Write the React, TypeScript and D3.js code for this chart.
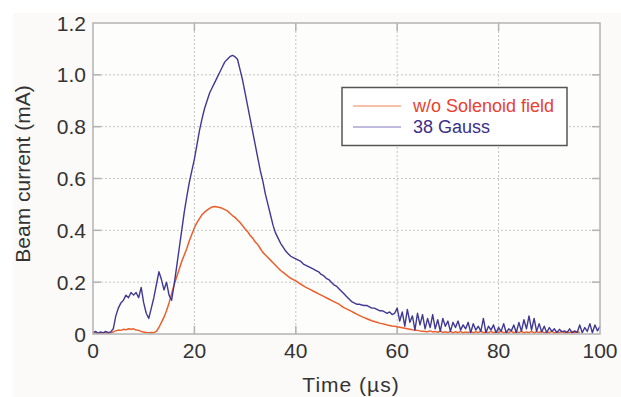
import React from "react";
import * as d3 from "d3";

// Sample interval of both traces: 0.5 µs, starting at t = 0
const STEP_US = 0.5;

const xTicks = [0, 20, 40, 60, 80, 100];
const yTicks = [0, 0.2, 0.4, 0.6, 0.8, 1.0, 1.2];
const yTickLabels = ["0", "0.2", "0.4", "0.6", "0.8", "1.0", "1.2"];

const seriesNames = ["w/o Solenoid field", "38 Gauss"];

// 38 Gauss (mA), every 0.5 µs from 0 to 100 µs
const gauss38 = [
  0.005, 0.01, 0.003, 0.008, 0.004, 0.01, 0.005, 0.008,
  0.02, 0.07, 0.10, 0.12, 0.13, 0.15, 0.14, 0.16, 0.15, 0.16, 0.14, 0.18,
  0.12, 0.08, 0.06, 0.10, 0.14, 0.19, 0.24, 0.21, 0.17, 0.20, 0.15, 0.13,
  0.19, 0.26, 0.33, 0.40, 0.47, 0.53, 0.585, 0.63, 0.675, 0.73, 0.785, 0.83,
  0.87, 0.90, 0.93, 0.95, 0.97, 0.99, 1.01, 1.03, 1.05, 1.06, 1.07, 1.075,
  1.07, 1.06, 1.02, 0.98, 0.93, 0.88, 0.83, 0.78, 0.73, 0.68, 0.63, 0.59,
  0.54, 0.50, 0.46, 0.42, 0.39, 0.37, 0.35, 0.335, 0.32, 0.31, 0.30, 0.295,
  0.29, 0.285, 0.28, 0.27, 0.265, 0.26, 0.255, 0.25, 0.245, 0.24, 0.23, 0.225,
  0.215, 0.21, 0.20, 0.19, 0.185, 0.175, 0.165, 0.155, 0.145, 0.135, 0.125, 0.12,
  0.115, 0.115, 0.112, 0.11, 0.11, 0.105, 0.10, 0.10, 0.095, 0.09, 0.09, 0.085,
  0.08, 0.085, 0.075, 0.08,
  0.10, 0.05, 0.085, 0.03, 0.095, 0.045, 0.07, 0.015, 0.08, 0.035, 0.075, 0.02,
  0.06, 0.025, 0.075, 0.02, 0.055, 0.01, 0.06, 0.03, 0.05, 0.01, 0.045, 0.025,
  0.05, 0.015, 0.035, 0.02, 0.045, 0.005, 0.04, 0.015, 0.03, 0.01, 0.06, 0.005,
  0.03, 0.015, 0.035, 0.005, 0.025, 0.01, 0.04, 0.005, 0.02, 0.012, 0.035, 0.005,
  0.045, 0.01, 0.055, 0.02, 0.07, 0.015, 0.06, 0.01, 0.04, 0.008, 0.03, 0.005,
  0.025, 0.01, 0.02, 0.005, 0.018, 0.008, 0.012, 0.005, 0.02, 0.004, 0.012, 0.006,
  0.035, 0.005, 0.025, 0.01, 0.04, 0.005, 0.035, 0.012, 0.03,
];

// w/o Solenoid field (mA), every 0.5 µs from 0 to 100 µs
const noSolenoid = [
  0.003, 0.005, 0.002, 0.004, 0.003, 0.005, 0.002, 0.004,
  0.008, 0.012, 0.015, 0.014, 0.018, 0.016, 0.02, 0.018, 0.02, 0.015, 0.014, 0.01,
  0.008, 0.006, 0.005, 0.006, 0.005, 0.01, 0.025, 0.045, 0.065, 0.09, 0.12, 0.155,
  0.19, 0.22, 0.25, 0.28, 0.305, 0.33, 0.36, 0.385, 0.41, 0.43, 0.445, 0.46,
  0.47, 0.478, 0.485, 0.49, 0.492, 0.49, 0.488, 0.485, 0.48, 0.475, 0.466, 0.457,
  0.45, 0.44, 0.43, 0.418, 0.405, 0.395, 0.38, 0.37, 0.355, 0.345, 0.33, 0.315,
  0.305, 0.295, 0.285, 0.275, 0.265, 0.255, 0.245, 0.238, 0.23, 0.222, 0.215, 0.21,
  0.205, 0.198, 0.192, 0.186, 0.18, 0.175, 0.17, 0.165, 0.16, 0.155, 0.15, 0.145,
  0.14, 0.135, 0.13, 0.125, 0.12, 0.115, 0.108, 0.102, 0.097, 0.092, 0.087, 0.082,
  0.077, 0.072, 0.067, 0.063, 0.059, 0.055, 0.051, 0.048, 0.045, 0.042, 0.04, 0.038,
  0.035, 0.033, 0.031, 0.03, 0.028, 0.026, 0.024, 0.022, 0.02, 0.018, 0.016, 0.015,
  0.014, 0.012, 0.011, 0.01, 0.009, 0.012, 0.008, 0.01, 0.007, 0.011, 0.006, 0.009,
  0.005, 0.01, 0.004, 0.009, 0.005, 0.01, 0.004, 0.008, 0.005, 0.01, 0.004, 0.009,
  0.005, 0.011, 0.004, 0.008, 0.005, 0.01, 0.004, 0.009, 0.005, 0.01, 0.004, 0.008,
  0.005, 0.011, 0.004, 0.009, 0.005, 0.01, 0.004, 0.008, 0.005, 0.01, 0.004, 0.009,
  0.005, 0.011, 0.004, 0.008, 0.005, 0.01, 0.004, 0.009, 0.005, 0.01, 0.004, 0.008,
  0.005, 0.01, 0.004, 0.009, 0.005,
];

const W = 621;
const H = 397;
const M = { left: 93, right: 600, top: 23, bottom: 334 };
const FONT = "'Liberation Sans', Arial, Helvetica, sans-serif";

const COL_BLUE = "#3f3894";
const COL_ORANGE = "#ea5f2c";

export default function App() {
  const x = d3.scaleLinear().domain([0, 100]).range([M.left, M.right]);
  const y = d3.scaleLinear().domain([0, 1.2]).range([M.bottom, M.top]);

  const toPts = (vals: number[]) => vals.map((v, i) => [i * STEP_US, v] as [number, number]);
  const line = d3
    .line<[number, number]>()
    .x((d) => x(d[0]))
    .y((d) => y(d[1]));

  const tickLen = 8;
  const frame = "#b3b3b3";

  return (
    <svg
      width={W}
      height={H}
      style={{ position: "absolute", left: 0, top: 0, fontFamily: FONT }}
    >
      <rect x={0} y={0} width={W} height={H} fill="#ffffff" />
      <rect x={13} y={13} width={W - 13} height={H - 13} fill="#fbfaf8" />
      <rect x={M.left} y={M.top} width={M.right - M.left} height={M.bottom - M.top} fill="#fdfdfc" />

      {/* grid */}
      {xTicks.slice(1, -1).map((t) => (
        <line key={"gx" + t} x1={x(t)} x2={x(t)} y1={M.top} y2={M.bottom}
          stroke="#c4c4c4" strokeWidth={1} strokeDasharray="2,2" />
      ))}
      {yTicks.slice(1, -1).map((t) => (
        <line key={"gy" + t} x1={M.left} x2={M.right} y1={y(t)} y2={y(t)}
          stroke="#c4c4c4" strokeWidth={1} strokeDasharray="2,2" />
      ))}

      {/* inner tick marks */}
      {xTicks.slice(1, -1).map((t) => (
        <g key={"tx" + t}>
          <line x1={x(t)} x2={x(t)} y1={M.bottom} y2={M.bottom - tickLen} stroke={frame} strokeWidth={1.5} />
          <line x1={x(t)} x2={x(t)} y1={M.top} y2={M.top + tickLen} stroke={frame} strokeWidth={1.5} />
        </g>
      ))}
      {yTicks.slice(1, -1).map((t) => (
        <g key={"ty" + t}>
          <line x1={M.left} x2={M.left + tickLen} y1={y(t)} y2={y(t)} stroke={frame} strokeWidth={1.5} />
          <line x1={M.right} x2={M.right - tickLen} y1={y(t)} y2={y(t)} stroke={frame} strokeWidth={1.5} />
        </g>
      ))}

      {/* traces */}
      <path d={line(toPts(noSolenoid)) || ""} fill="none" stroke={COL_ORANGE} strokeWidth={1.5} strokeLinejoin="round" />
      <path d={line(toPts(gauss38)) || ""} fill="none" stroke={COL_BLUE} strokeWidth={1.4} strokeLinejoin="round" />

      {/* frame */}
      <rect x={M.left} y={M.top} width={M.right - M.left} height={M.bottom - M.top}
        fill="none" stroke={frame} strokeWidth={1.5} />

      {/* tick labels */}
      {xTicks.map((t) => (
        <text key={"lx" + t} x={x(t)} y={358} textAnchor="middle" fontSize={21} fill="#333">
          {t}
        </text>
      ))}
      {yTicks.map((t, i) => (
        <text key={"ly" + t} x={86} y={y(t) + 7.5} textAnchor="end" fontSize={21} fill="#333">
          {yTickLabels[i]}
        </text>
      ))}

      {/* axis titles */}
      <text x={351} y={392} textAnchor="middle" fontSize={21} letterSpacing={1} fill="#333">
        Time (µs)
      </text>
      <text transform={`translate(30,174) rotate(-90)`} textAnchor="middle" fontSize={21} fill="#333">
        Beam current (mA)
      </text>

      {/* legend */}
      <rect x={342} y={87.5} width={225} height={58} fill="#ffffff" stroke="#555" strokeWidth={1.5} />
      <line x1={353} x2={401} y1={106} y2={106} stroke="#f4ab8a" strokeWidth={1.5} />
      <line x1={353} x2={401} y1={127} y2={127} stroke="#aaa5d2" strokeWidth={1.5} />
      <text x={413} y={111.5} fontSize={18} fill="#e8412f">{seriesNames[0]}</text>
      <text x={413} y={133} fontSize={18} fill="#3b2f86">{seriesNames[1]}</text>
    </svg>
  );
}
